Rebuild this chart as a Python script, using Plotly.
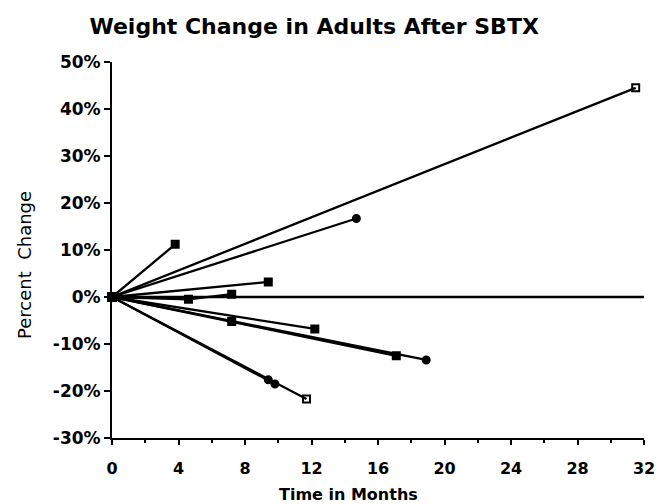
import plotly.graph_objects as go

# Time in months / percent weight change for each adult (all start at 0,0)
p1_months = [0, 3.8]
p1_change = [0, 11.2]
p2_months = [0, 31.5]
p2_change = [0, 44.5]
p3_months = [0, 14.7]
p3_change = [0, 16.7]
p4_months = [0, 9.4]
p4_change = [0, 3.2]
p5_months = [0, 4.6, 7.2]
p5_change = [0, -0.5, 0.6]
p6_months = [0, 12.2]
p6_change = [0, -6.8]
p7_months = [0, 7.2, 17.1]
p7_change = [0, -5.2, -12.5]
p8_months = [0, 18.9]
p8_change = [0, -13.4]
p9_months = [0, 9.4, 9.8]
p9_change = [0, -17.6, -18.5]
p10_months = [0, 11.7]
p10_change = [0, -21.7]

zero_months = [0, 32]
zero_change = [0, 0]

x_ticks = [0, 4, 8, 12, 16, 20, 24, 28, 32]
x_ticktext = ["0", "4", "8", "12", "16", "20", "24", "28", "32"]
y_ticks = [-30, -20, -10, 0, 10, 20, 30, 40, 50]
y_ticktext = ["-30%", "-20%", "-10%", "0%", "10%", "20%", "30%", "40%", "50%"]

series = [
    (p1_months, p1_change, "square"),
    (p2_months, p2_change, "square-open"),
    (p3_months, p3_change, "circle"),
    (p4_months, p4_change, "square"),
    (p5_months, p5_change, "square"),
    (p6_months, p6_change, "square"),
    (p7_months, p7_change, "square"),
    (p8_months, p8_change, "circle"),
    (p9_months, p9_change, "circle"),
    (p10_months, p10_change, "square-open"),
]

fig = go.Figure()
fig.add_trace(go.Scatter(x=zero_months, y=zero_change, mode="lines",
                         line=dict(color="black", width=2.5),
                         showlegend=False, hoverinfo="skip", cliponaxis=False))
for xs, ys, sym in series:
    fig.add_trace(go.Scatter(
        x=xs, y=ys, mode="lines+markers",
        line=dict(color="black", width=2.3),
        marker=dict(symbol=sym, size=7, color="black",
                    line=dict(color="black", width=2)),
        showlegend=False, cliponaxis=False))

FONT = "DejaVu Sans"

fig.update_layout(
    width=667, height=504,
    margin=dict(l=112, r=17, t=62, b=66),
    paper_bgcolor="white", plot_bgcolor="white",
    title=dict(text="<b>Weight Change in Adults After SBTX</b>",
               x=0.471, xanchor="center", y=(504 - 26) / 504, yanchor="middle",
               font=dict(family=FONT, size=22, color="black")),
    font=dict(family=FONT, color="black"),
    xaxis=dict(range=[0, 32], tickvals=x_ticks, ticktext=x_ticktext,
               showgrid=False, zeroline=False, showline=True,
               linecolor="black", linewidth=2,
               ticks="outside", ticklen=5, tickwidth=2, tickcolor="black",
               ticklabelstandoff=10,
               tickfont=dict(family=FONT, size=16, color="black", weight="bold"),
               minor=dict(dtick=2, tick0=0, ticks="outside", ticklen=3,
                          tickwidth=1.5, tickcolor="black", showgrid=False)),
    yaxis=dict(range=[-30, 50], tickvals=y_ticks, ticktext=y_ticktext,
               showgrid=False, zeroline=False, showline=True,
               linecolor="black", linewidth=2,
               ticks="outside", ticklen=6, tickwidth=2, tickcolor="black",
               tickfont=dict(family=FONT, size=17, color="black", weight="bold")),
    annotations=[
        dict(text="<b>Time in Months</b>", xref="paper", yref="paper",
             x=(351 - 112) / 538, y=-(494 - 438) / 376, xanchor="center",
             yanchor="middle", showarrow=False,
             font=dict(family=FONT, size=16, color="black")),
        dict(text="Percent  Change", xref="paper", yref="paper",
             x=-(112 - 23) / 538, y=(438 - 265) / 376, xanchor="center",
             yanchor="middle", showarrow=False, textangle=-90,
             font=dict(family=FONT, size=18, color="black")),
    ],
)

fig.write_html("out.html", config={"displayModeBar": False},
               post_script="document.body.style.margin='0';")
